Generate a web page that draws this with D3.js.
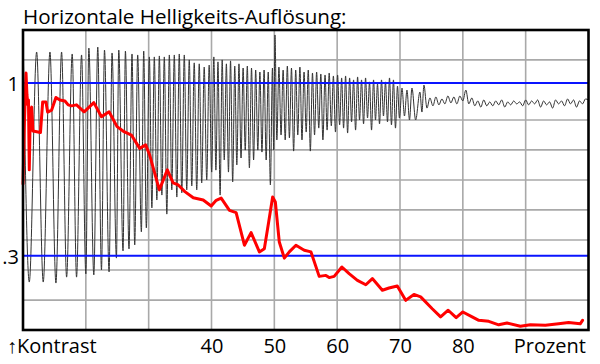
<!DOCTYPE html>
<html><head><meta charset="utf-8">
<script src="https://cdn.jsdelivr.net/npm/d3@7"></script>
<style>body{margin:0;background:#fff}svg{display:block}</style>
</head><body><svg id="chart" width="600" height="364"></svg>
<script>
// ---------------- data ----------------
const titleText = "Horizontale Helligkeits-Auflösung:";
const xAxisLeftLabel = "↑Kontrast";
const xAxisRightLabel = "Prozent";
const xTickValues = [40, 50, 60, 70, 80];
const xGridValues = [20, 30, 40, 50, 60, 70, 80, 90];
const yRefValues = [1, 0.3];
const yRefLabels = ["1", ".3"];
const yGridValues = [0.121, 0.243, 0.364, 0.486, 0.607, 0.729, 0.850, 1.093];
const xDomain = [10, 100];
const yDomain = [0, 1.214];

// red: measured contrast (percent -> contrast)
const redX = [10.00,10.24,10.48,10.63,10.79,10.87,11.00,11.16,11.38,11.59,12.78,13.13,13.65,13.92,14.56,15.24,15.87,16.67,17.19,17.73,18.52,19.73,21.27,22.49,23.70,24.97,25.92,27.25,28.57,29.52,30.16,31.70,32.97,33.89,34.71,35.76,37.10,38.68,39.95,40.75,41.54,42.86,43.92,45.24,46.30,47.62,48.41,49.10,49.73,50.16,50.79,51.59,52.38,53.44,54.76,55.83,57.14,58.21,58.73,59.52,60.75,61.90,63.22,64.56,65.60,67.19,68.25,69.57,70.90,72.22,73.29,75.13,76.46,77.67,78.94,80.00,81.48,82.54,84.13,85.71,87.03,89.16,90.75,93.13,95.24,96.83,98.68,99.05];
const redY = [0.591,0.850,1.040,0.951,0.911,0.931,0.648,0.882,0.902,0.805,0.799,0.923,0.923,0.882,0.890,0.941,0.931,0.927,0.911,0.907,0.911,0.883,0.920,0.863,0.883,0.823,0.805,0.789,0.735,0.749,0.708,0.567,0.648,0.595,0.587,0.560,0.535,0.526,0.502,0.525,0.534,0.484,0.475,0.343,0.394,0.316,0.329,0.437,0.538,0.518,0.356,0.291,0.316,0.343,0.323,0.316,0.217,0.221,0.212,0.217,0.255,0.228,0.201,0.183,0.208,0.161,0.170,0.178,0.120,0.144,0.134,0.086,0.053,0.080,0.050,0.073,0.053,0.039,0.035,0.021,0.028,0.015,0.021,0.019,0.025,0.030,0.025,0.039];

// gray: raw signal extremes (percent -> level)
const grayX = [
10.00,11.00,12.17,13.22,14.29,15.24,16.14,16.94,17.83,18.52,19.32,20.00,20.48,21.27,21.90,22.49,22.97,23.70,24.17,24.87,25.24,25.92,26.30,26.87,27.35,27.78,28.25,28.84,29.21,29.63,
30.11,30.51,30.90,31.30,31.70,32.10,32.49,32.89,33.29,33.68,34.08,34.48,34.87,35.27,35.67,36.06,36.46,36.86,37.25,37.65,38.05,38.44,38.84,39.24,39.63,
40.03,40.37,40.70,41.03,41.37,41.70,42.03,42.37,42.70,43.03,43.37,43.70,44.03,44.37,44.70,45.03,45.37,45.70,46.03,46.37,46.70,47.03,47.37,47.70,48.03,48.37,48.70,49.03,49.37,49.70,49.90,50.10,50.40,
50.73,51.07,51.40,51.73,52.07,52.40,52.73,53.07,53.40,53.73,54.07,54.40,54.73,55.07,55.40,55.73,56.07,56.40,56.73,57.07,57.40,57.73,58.07,58.40,58.73,59.07,59.40,59.73,60.07,
60.39,60.71,61.02,61.34,61.66,61.98,62.29,62.61,62.93,63.25,63.56,63.88,64.20,64.52,64.83,65.15,65.47,65.79,66.10,66.42,66.74,67.06,67.37,67.69,68.01,68.33,68.64,68.96,69.28,69.60,69.91,
70.32,70.71,71.11,71.51,71.90,72.49,73.17,73.49,73.81,74.29,
74.76,75.24,75.71,76.19,76.67,77.14,77.62,78.10,78.57,79.05,79.52,80.00,80.48,80.95,81.43,81.90,82.38,82.86,83.33,83.81,84.29,84.76,85.24,85.71,86.19,86.67,87.14,87.62,88.10,88.57,89.05,89.52,90.00,90.48,90.95,91.43,91.90,92.38,92.86,93.33,93.81,94.29,94.76,95.24,95.71,96.19,96.67,97.14,97.62,98.10,98.57,99.05,99.52,100.0];
const grayY = [
1.214,0.194,1.125,0.194,1.125,0.190,1.125,0.214,1.117,0.214,1.113,0.227,1.141,0.223,1.145,0.243,1.133,0.235,1.121,0.291,1.133,0.320,1.129,0.328,1.117,0.344,1.113,0.397,1.129,0.413,
1.105,0.494,1.105,0.526,1.109,0.546,1.105,0.469,1.113,0.567,1.113,0.538,1.117,0.555,1.113,0.567,1.093,0.583,1.081,0.567,1.077,0.595,1.064,0.607,1.072,
0.639,1.105,0.647,1.085,0.546,1.093,0.688,1.077,0.639,1.089,0.599,1.068,0.668,1.077,0.696,1.060,0.728,1.068,0.656,1.060,0.688,1.052,0.728,1.044,0.720,1.052,0.688,1.044,0.587,1.060,0.728,1.194,0.769,
1.064,0.789,1.052,0.769,1.068,0.777,1.060,0.724,1.052,0.789,1.064,0.769,1.044,0.801,1.052,0.724,1.040,0.789,1.044,0.817,1.036,0.769,1.032,0.809,1.040,0.826,1.028,0.801,1.032,
0.830,1.020,0.817,1.028,0.797,1.020,0.842,1.012,0.809,1.024,0.850,1.012,0.834,1.020,0.858,1.004,0.809,1.012,0.850,0.996,0.834,1.012,0.866,1.004,0.842,1.020,0.830,1.012,0.817,0.987,0.858,
0.979,0.866,0.971,0.850,0.979,0.850,0.963,0.882,0.991,0.898,
0.939,0.907,0.943,0.911,0.935,0.915,0.947,0.919,0.943,0.915,0.947,0.927,0.971,0.915,0.939,0.907,0.927,0.902,0.931,0.907,0.923,0.907,0.927,0.911,0.931,0.902,0.923,0.911,0.927,0.915,0.923,0.907,0.931,0.911,0.927,0.915,0.931,0.902,0.927,0.911,0.923,0.898,0.931,0.915,0.927,0.907,0.935,0.915,0.931,0.902,0.927,0.915,0.935,0.931];

// ---------------- drawing ----------------
const FONT = "'Open Sans', sans-serif";
const svg = d3.select("#chart");
const plot = {left: 23, right: 588.5, top: 30, bottom: 330};
const x = d3.scaleLinear().domain(xDomain).range([plot.left, plot.right]);
const y = d3.scaleLinear().domain(yDomain).range([plot.bottom, plot.top]);

svg.append("rect").attr("width", 600).attr("height", 364).attr("fill", "#fff");

// grid
svg.append("g").selectAll("line").data(xGridValues).join("line")
  .attr("x1", d => x(d)).attr("x2", d => x(d))
  .attr("y1", plot.top).attr("y2", plot.bottom)
  .attr("stroke", "#a9a9a9").attr("stroke-width", 1.6);
svg.append("g").selectAll("line").data(yGridValues).join("line")
  .attr("x1", plot.left).attr("x2", plot.right)
  .attr("y1", d => y(d)).attr("y2", d => y(d))
  .attr("stroke", "#a9a9a9").attr("stroke-width", 1.6);

// gray signal
const grayPts = grayX.map((v, i) => [v, grayY[i]]);
svg.append("path").datum(grayPts)
  .attr("d", d3.line().x(d => x(d[0])).y(d => y(d[1])).curve(d3.curveMonotoneX))
  .attr("fill", "none").attr("stroke", "#333").attr("stroke-width", 1);

// blue reference lines
svg.append("g").selectAll("line").data(yRefValues).join("line")
  .attr("x1", plot.left).attr("x2", plot.right)
  .attr("y1", d => y(d)).attr("y2", d => y(d))
  .attr("stroke", "#0a14ff").attr("stroke-width", 2);

// red measured curve
const redPts = redX.map((v, i) => [v, redY[i]]);
svg.append("path").datum(redPts)
  .attr("d", d3.line().x(d => x(d[0])).y(d => y(d[1])))
  .attr("fill", "none").attr("stroke", "#ff0000").attr("stroke-width", 3)
  .attr("stroke-linejoin", "round").attr("stroke-linecap", "round");

// frame
svg.append("rect")
  .attr("x", plot.left).attr("y", plot.top)
  .attr("width", plot.right - plot.left).attr("height", plot.bottom - plot.top)
  .attr("fill", "none").attr("stroke", "#000").attr("stroke-width", 2.6);

// x axis labels
const xAxis = d3.axisBottom(x).tickValues(xTickValues).tickSize(0).tickFormat(d3.format("d"));
const gx = svg.append("g").attr("transform", `translate(0,${plot.bottom})`).call(xAxis);
gx.select(".domain").remove();
gx.selectAll("text").attr("y", 23).attr("dy", 0)
  .attr("font-family", FONT).attr("font-size", 20).attr("fill", "#000");

// y reference labels
const yAxis = d3.axisLeft(y).tickValues(yRefValues).tickSize(0)
  .tickFormat((d, i) => yRefLabels[i]);
const gy = svg.append("g").attr("transform", `translate(${plot.left},0)`).call(yAxis);
gy.select(".domain").remove();
gy.selectAll("text").attr("x", -4).attr("dy", "0.36em")
  .attr("font-family", FONT).attr("font-size", 20).attr("fill", "#000");

svg.append("text").attr("x", 7).attr("y", plot.bottom + 23)
  .attr("font-family", FONT).attr("font-size", 20).text(xAxisLeftLabel);
svg.append("text").attr("x", 586).attr("y", plot.bottom + 23).attr("text-anchor", "end")
  .attr("font-family", FONT).attr("font-size", 20).text(xAxisRightLabel);

// title
svg.append("text").attr("x", 23).attr("y", 24)
  .attr("font-family", FONT).attr("font-size", 20.6).text(titleText);
</script>
</body></html>
